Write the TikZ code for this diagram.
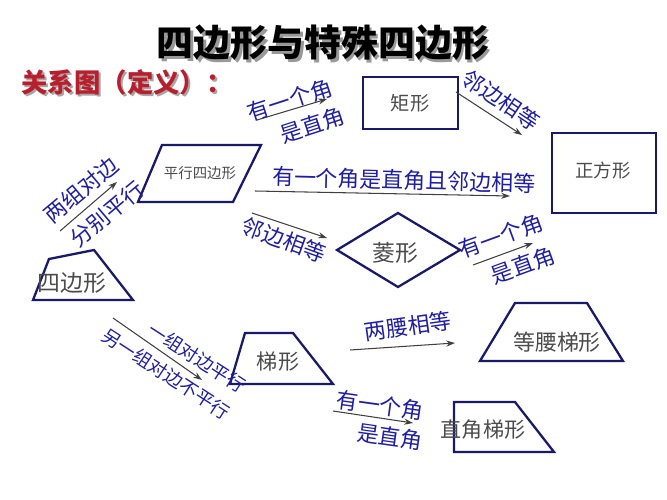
\documentclass[tikz,border=0pt]{standalone}
\usepackage{fontspec}
\usetikzlibrary{arrows.meta}
\newfontfamily\cjk{Noto Sans CJK SC}
\definecolor{shapeline}{RGB}{25,25,105}
\definecolor{labelblue}{RGB}{30,30,165}
\definecolor{titlered}{RGB}{185,30,45}
\definecolor{shapetext}{RGB}{75,75,75}
\tikzset{
	fig/.style={draw=shapeline, line width=1.3pt, line join=miter},
	figtext/.style={text=shapetext, inner sep=0pt, font=\cjk\fontsize{12}{12}\selectfont},
	cond/.style={text=labelblue, inner sep=0pt, font=\cjk\fontsize{12.5}{12.5}\selectfont},
	condsmall/.style={cond, font=\cjk\fontsize{10.5}{10.5}\selectfont},
	arr/.style={draw=black!75, line width=0.6pt, -{Stealth[length=5pt,width=3.5pt]}},
}

\begin{document}
\begin{tikzpicture}[x=0.02cm, y=-0.02cm]
			%%%%% START %%%%%
			\useasboundingbox (0, 0) rectangle (667, 500);
			
			\node[text=black!40, font=\cjk\bfseries\fontsize{21}{21}\selectfont] (titleshadow) at (325.5, 45.5) {四边形与特殊四边形};
			\node[text=black, font=\cjk\bfseries\fontsize{21}{21}\selectfont] (title) at (323, 43) {四边形与特殊四边形};
			\node[text=black!35, font=\cjk\bfseries\fontsize{15}{15}\selectfont] (subshadow) at (129, 84) {关系图（定义）：};
			\node[text=titlered, font=\cjk\bfseries\fontsize{15}{15}\selectfont] (subtitle) at (127, 82) {关系图（定义）：};
			
			\draw[fig] (33, 300) -- (49, 259) -- (94, 250) -- (133, 300) -- cycle;
			\node[figtext, font=\cjk\fontsize{13}{13}\selectfont] (sibianxing) at (72, 283) {四边形};
			
			\draw[fig] (138, 202) -- (162, 145) -- (261, 145) -- (233, 202) -- cycle;
			\node[figtext, font=\cjk\fontsize{8.2}{8.2}\selectfont] (pingxing) at (200, 173) {平行四边形};
			
			\draw[fig] (363, 77) rectangle (458, 129);
			\node[figtext, font=\cjk\fontsize{11}{11}\selectfont] (juxing) at (410, 103) {矩形};
			
			\draw[fig] (552, 133) rectangle (656, 213);
			\node[figtext, font=\cjk\fontsize{10.5}{10.5}\selectfont] (zhengfang) at (603, 170) {正方形};
			
			\draw[fig] (337, 250) -- (398, 213) -- (460, 250) -- (398, 287) -- cycle;
			\node[figtext, font=\cjk\fontsize{13}{13}\selectfont] (lingxing) at (395, 253) {菱形};
			
			\draw[fig] (230, 384) -- (245, 333) -- (293, 333) -- (333, 384) -- cycle;
			\node[figtext] (tixing) at (278, 362) {梯形};
			
			\draw[fig] (480, 361) -- (515, 303) -- (587, 303) -- (623, 361) -- cycle;
			\node[figtext, font=\cjk\fontsize{12.5}{12.5}\selectfont] (dengyao) at (557, 342) {等腰梯形};
			
			\draw[fig] (454, 452) -- (454, 402) -- (515, 402) -- (554, 452) -- cycle;
			\node[figtext] (zhijiao) at (483, 430) {直角梯形};
			
			\coordinate (a1s) at (60, 231);   \coordinate (a1e) at (117, 182);
			\coordinate (a2s) at (257, 120);  \coordinate (a2e) at (327, 99);
			\coordinate (a3s) at (456, 92);   \coordinate (a3e) at (522, 135);
			\coordinate (a4s) at (255, 191);  \coordinate (a4e) at (510, 196);
			\coordinate (a5s) at (252, 213);  \coordinate (a5e) at (327, 238);
			\coordinate (a6s) at (473, 265);  \coordinate (a6e) at (533, 243);
			\coordinate (a7s) at (113, 318);  \coordinate (a7e) at (202, 380);
			\coordinate (a8s) at (350, 350);  \coordinate (a8e) at (455, 343);
			\coordinate (a9s) at (333, 411);  \coordinate (a9e) at (413, 423);
			
			\draw[arr] (a1s) -- (a1e);
			\node[cond, rotate=40] (liangzu) at (81, 190) {两组对边};
			\node[cond, rotate=40] (fenbie) at (107, 214) {分别平行};
			
			\draw[arr] (a2s) -- (a2e);
			\node[cond, rotate=18] (jiaoA) at (290, 100) {有一个角};
			\node[cond, rotate=18] (zhiA) at (312, 125) {是直角};
			
			\draw[arr] (a3s) -- (a3e);
			\node[cond, rotate=-34] (linA) at (501, 100) {邻边相等};
			
			\draw[arr] (a4s) -- (a4e);
			\node[cond, rotate=-1.5] (both) at (404, 180) {有一个角是直角且邻边相等};
			
			\draw[arr] (a5s) -- (a5e);
			\node[cond, rotate=-20] (linB) at (284, 240) {邻边相等};
			
			\draw[arr] (a6s) -- (a6e);
			\node[cond, rotate=20] (jiaoB) at (501, 236) {有一个角};
			\node[cond, rotate=20] (zhiB) at (523, 265) {是直角};
			
			\draw[arr] (a7s) -- (a7e);
			\node[condsmall, rotate=-33] (yizu) at (197, 358) {一组对边平行};
			\node[condsmall, rotate=-33] (lingyi) at (166, 374) {另一组对边不平行};
			
			\draw[arr] (a8s) -- (a8e);
			\node[cond, rotate=8] (yao) at (408, 326) {两腰相等};
			
			\draw[arr] (a9s) -- (a9e);
			\node[cond, rotate=-8] (jiaoC) at (380, 405) {有一个角};
			\node[cond, rotate=-8] (zhiC) at (390, 437) {是直角};
			%%%%% END %%%%%
\end{tikzpicture}
\end{document}
